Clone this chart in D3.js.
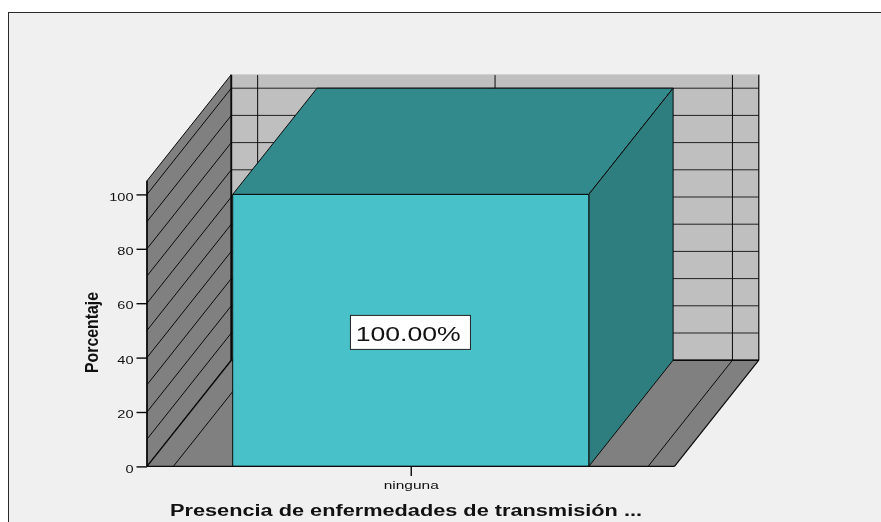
<!DOCTYPE html>
<html><head><meta charset="utf-8">
<script src="https://cdn.jsdelivr.net/npm/d3@7/dist/d3.min.js"></script>
<style>html,body{margin:0;padding:0;background:#fff}svg{display:block;filter:blur(0.3px)}text{font-family:"Liberation Sans",Arial,sans-serif;fill:#111}</style>
</head><body><svg id="c" width="881" height="522"></svg>
<script>
const categories = ["ninguna"];
const values = [100];
const valueLabels = ["100.00%"];
const yTicks = [0,20,40,60,80,100];
const gridValues = [0,10,20,30,40,50,60,70,80,90,100];
const gridPositions = [-1,0,1];
const xAxisTitle = "Presencia de enfermedades de transmisión ...";
const yAxisTitle = "Porcentaje";

const svg = d3.select("#c");
const y = d3.scaleLinear().domain([0,105]).range([466.4,180.8]);
const x = d3.scaleLinear().domain([-1.111,1.111]).range([147,674.5]);
const DX = 84.3, DY = -106.2, barHalf = 0.75;
const pts = a => a.map(p=>p.join(",")).join(" ");
const K = "#0a0a0a";
const C = {bg:"#f0f0f0",wall:"#bfbfbf",side:"#808080",front:"#48c2c8",top:"#338a8c",right:"#2e7e7f"};

// frame
svg.append("rect").attr("x",8.5).attr("y",12.5).attr("width",900).attr("height",540).attr("fill",C.bg).attr("stroke","#2a2a2a").attr("stroke-width",1);

const x0=x.range()[0], x1=x.range()[1], y0=y(0), yT=y(105);
// back wall
svg.append("polygon").attr("points",pts([[x0+DX,yT+DY],[x1+DX,yT+DY],[x1+DX,y0+DY],[x0+DX,y0+DY]])).attr("fill",C.wall);
// left wall and floor
svg.append("polygon").attr("points",pts([[x0,yT],[x0+DX,yT+DY],[x0+DX,y0+DY],[x0,y0]])).attr("fill",C.side).attr("stroke",K).attr("stroke-width",1);
svg.append("polygon").attr("points",pts([[x0,y0],[x1,y0],[x1+DX,y0+DY],[x0+DX,y0+DY]])).attr("fill",C.side);
// grid: back wall and left wall
gridValues.forEach(v=>{
  svg.append("line").attr("x1",x0+DX).attr("x2",x1+DX).attr("y1",y(v)+DY).attr("y2",y(v)+DY).attr("stroke","#222").attr("stroke-width",1);
  svg.append("line").attr("x1",x0).attr("x2",x0+DX).attr("y1",y(v)).attr("y2",y(v)+DY).attr("stroke",K).attr("stroke-width",v===0?1.4:1);
});
gridPositions.forEach(g=>{
  svg.append("line").attr("x1",x(g)+DX).attr("x2",x(g)+DX).attr("y1",yT+DY).attr("y2",y0+DY).attr("stroke",K).attr("stroke-width",1);
  svg.append("line").attr("x1",x(g)).attr("x2",x(g)+DX).attr("y1",y0).attr("y2",y0+DY).attr("stroke",K).attr("stroke-width",1);
});
// edges
const edge=(a,b,w)=>svg.append("line").attr("x1",a[0]).attr("y1",a[1]).attr("x2",b[0]).attr("y2",b[1]).attr("stroke",K).attr("stroke-width",w);
edge([x1+DX,yT+DY],[x1+DX,y0+DY],1.2);
edge([x1,y0],[x1+DX,y0+DY],1.2);
edge([x0+DX,y0+DY],[x1+DX,y0+DY],1.6);
edge([x0+DX,yT+DY],[x0+DX,y0+DY],1.8);
edge([x0,yT],[x0,y0],1.6);
svg.append("line").attr("x1",x0+DX).attr("x2",x1+DX).attr("y1",yT+DY).attr("y2",yT+DY).attr("stroke","#cfcfcf").attr("stroke-width",1);

// bar
categories.forEach((c,i)=>{
  const xa=x(i-barHalf), xb=x(i+barHalf), yv=y(values[i]);
  const st={stroke:K,"stroke-width":1,"stroke-linejoin":"round"};
  const add=(p,f)=>{const s=svg.append("polygon").attr("points",pts(p)).attr("fill",f);Object.entries(st).forEach(([k,v])=>s.attr(k,v));};
  add([[xa,yv],[xa+DX,yv+DY],[xb+DX,yv+DY],[xb,yv]],C.top);
  add([[xb,yv],[xb+DX,yv+DY],[xb+DX,y0+DY],[xb,y0]],C.right);
  add([[xa,yv],[xb,yv],[xb,y0],[xa,y0]],C.front);
  const lx=x(i), ly=y(values[i]/2);
  svg.append("rect").attr("x",lx-60.3).attr("y",ly-15).attr("width",120).attr("height",34).attr("fill","#fff").attr("stroke","#222").attr("stroke-width",1);
  svg.append("text").attr("x",lx-2.5).attr("y",ly+11).attr("text-anchor","middle").attr("font-size",21).attr("textLength",105).attr("lengthAdjust","spacingAndGlyphs").text(valueLabels[i]);
});
edge([x0,y0],[x1,y0],1.4);

// axes
const yAxis=svg.append("g").attr("transform",`translate(${x0},0)`).call(d3.axisLeft(y).tickValues(yTicks).tickSize(10.5).tickPadding(3).tickFormat(d3.format("d")));
yAxis.select(".domain").remove();
yAxis.selectAll("line").attr("stroke",K).attr("stroke-width",1.4);
yAxis.selectAll("text").attr("font-size",11).attr("font-family",null).attr("dy","0.52em").each(function(d){
  d3.select(this).attr("textLength",String(d).length*8.1).attr("lengthAdjust","spacingAndGlyphs");
});
const xAxis=svg.append("g").attr("transform",`translate(0,${y0})`).call(d3.axisBottom(x).tickValues(categories.map((c,i)=>i)).tickSize(9.5).tickPadding(5.5).tickFormat(i=>categories[i]));
xAxis.select(".domain").remove();
xAxis.selectAll("line").attr("stroke",K).attr("stroke-width",1.4);
xAxis.selectAll("text").attr("font-size",11).attr("textLength",55).attr("lengthAdjust","spacingAndGlyphs");

// titles
svg.append("text").attr("x",170).attr("y",515.7).attr("font-size",16).attr("font-weight","bold").attr("textLength",472).attr("lengthAdjust","spacingAndGlyphs").text(xAxisTitle);
svg.append("text").attr("transform","translate(98,332.5) rotate(-90)").attr("text-anchor","middle").attr("font-size",18).attr("font-weight","bold").attr("textLength",81).attr("lengthAdjust","spacingAndGlyphs").text(yAxisTitle);
</script></body></html>
